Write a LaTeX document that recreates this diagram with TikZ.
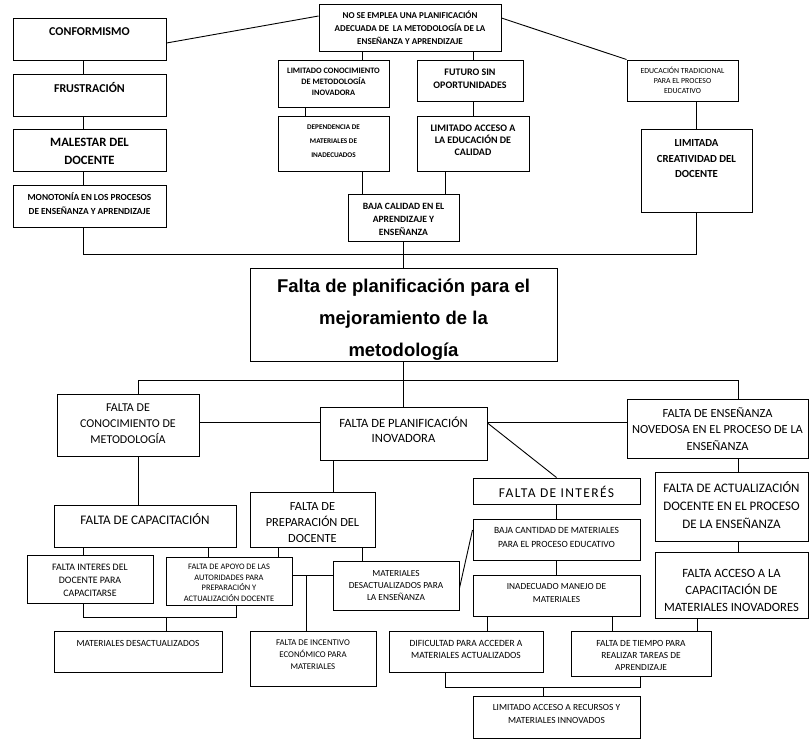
\documentclass[tikz,border=0pt]{standalone}
\usepackage{fontspec}
\setmainfont{Carlito}
\newfontfamily\arialfont{Liberation Sans}
\usepackage{tikz}
\newcommand{\cajatxt}[4]{\parbox[c][#2pt][t]{#1pt}{\centering\vspace*{\dimexpr#3pt-\ht\strutbox\relax}\strut#4}}
\newcommand{\tam}[2]{\fontsize{#1}{#2}\selectfont}

\begin{document}
\begin{tikzpicture}[x=1pt,y=-1pt,
    caja/.style={draw,line width=1pt,inner sep=0pt},
    linea/.style={line width=0.9pt}]
  \useasboundingbox (0,0) rectangle (809,740);
  % efectos
  \node[caja,font=\tam{12}{14}\bfseries] (conf) at (89.5,39) {\cajatxt{153}{42}{17.8}{CONFORMISMO}};
  \node[caja,font=\tam{12}{14}\bfseries] (frus) at (89.5,95) {\cajatxt{153}{42}{17.8}{FRUSTRACIÓN}};
  \node[caja,font=\tam{12.7}{18}\bfseries] (males) at (89.5,150) {\cajatxt{153}{42}{17}{MALESTAR DEL\\DOCENTE}};
  \node[caja,font=\tam{9.3}{14}\bfseries] (mono) at (89.5,206) {\cajatxt{153}{42}{15}{MONOTONÍA EN LOS PROCESOS\\DE ENSEÑANZA Y APRENDIZAJE}};
  \node[caja,font=\tam{9}{13}\bfseries] (nose) at (410,27.5) {\cajatxt{182}{47}{14}{NO SE EMPLEA UNA PLANIFICACIÓN\\ADECUADA DE \ LA METODOLOGÍA DE LA\\ENSEÑANZA Y APRENDIZAJE}};
  \node[caja,font=\tam{8.3}{11}\bfseries] (limcon) at (333.5,83.5) {\cajatxt{111}{47}{13.6}{LIMITADO CONOCIMIENTO\\DE METODOLOGÍA\\INOVADORA}};
  \node[caja,font=\tam{7.2}{14}\bfseries] (depen) at (333.5,143.5) {\cajatxt{111}{55}{13.3}{DEPENDENCIA DE\\MATERIALES DE\\INADECUADOS}};
  \node[caja,font=\tam{9.6}{13}\bfseries] (baja) at (403.5,217.5) {\cajatxt{111}{47}{15}{BAJA CALIDAD EN EL\\APRENDIZAJE Y\\ENSEÑANZA}};
  \node[caja,font=\tam{10}{13}\bfseries] (futuro) at (470,80.5) {\cajatxt{106}{41}{15.2}{FUTURO SIN\\OPORTUNIDADES}};
  \node[caja,font=\tam{10}{12}\bfseries] (limacc) at (473,143.5) {\cajatxt{112}{55}{15.2}{LIMITADO ACCESO A\\LA EDUCACIÓN DE\\CALIDAD}};
  \node[caja,font=\tam{7.8}{10}] (educ) at (682.5,80.5) {\cajatxt{111}{41}{13.5}{EDUCACIÓN TRADICIONAL\\PARA EL PROCESO\\EDUCATIVO}};
  \node[caja,font=\tam{10.8}{15.5}\bfseries] (limcre) at (696.5,170.5) {\cajatxt{111}{83}{17.5}{LIMITADA\\CREATIVIDAD DEL\\DOCENTE}};
  % problema
  \node[caja,font=\arialfont\bfseries\tam{18.5}{32}] (prob) at (403.5,314.5) {\cajatxt{307}{93}{24}{Falta de planificación para el\\mejoramiento de la\\metodología}};
  % causas
  \node[caja,font=\tam{12}{16}] (conoc) at (128,425) {\cajatxt{142}{62}{17.8}{FALTA DE\\CONOCIMIENTO DE\\METODOLOGÍA}};
  \node[caja,font=\tam{12.6}{15}] (plan) at (403.5,433.5) {\cajatxt{167}{53}{20}{FALTA DE PLANIFICACIÓN\\INOVADORA}};
  \node[caja,font=\tam{12.4}{16.5}] (novedosa) at (717.5,428.5) {\cajatxt{181}{59}{18}{FALTA DE ENSEÑANZA\\NOVEDOSA EN EL PROCESO DE LA\\ENSEÑANZA}};
  \node[caja,font=\tam{13}{18}] (actual) at (731.5,506.5) {\cajatxt{153}{69}{20.2}{FALTA DE ACTUALIZACIÓN\\DOCENTE EN EL PROCESO\\DE LA ENSEÑANZA}};
  \node[caja,font=\tam{12.6}{17}] (acceso) at (731.5,585) {\cajatxt{153}{66}{25}{FALTA ACCESO A LA\\CAPACITACIÓN DE\\MATERIALES INOVADORES}};
  \node[caja,font=\tam{13.5}{14}\addfontfeature{LetterSpace=10}] (interes) at (556.5,491) {\cajatxt{167}{26}{18.3}{FALTA DE INTERÉS}};
  \node[caja,font=\tam{9.5}{14}] (bajacant) at (556.5,539.5) {\cajatxt{167}{41}{14}{BAJA CANTIDAD DE MATERIALES\\PARA EL PROCESO EDUCATIVO}};
  \node[caja,font=\tam{9.3}{13}] (inadec) at (556.5,595.5) {\cajatxt{167}{41}{14}{INADECUADO MANEJO DE\\MATERIALES}};
  \node[caja,font=\tam{13.1}{14}] (capac) at (145,526) {\cajatxt{182}{42}{18.2}{FALTA DE CAPACITACIÓN}};
  \node[caja,font=\tam{12.4}{16}] (prep) at (312.5,519.5) {\cajatxt{125}{55}{18}{FALTA DE\\PREPARACIÓN DEL\\DOCENTE}};
  \node[caja,font=\tam{9.9}{13}] (faltint) at (90,579) {\cajatxt{126}{48}{15}{FALTA INTERES DEL\\DOCENTE PARA\\CAPACITARSE}};
  \node[caja,font=\tam{8.4}{10.5}] (apoyo) at (229,581) {\cajatxt{126}{48}{12.6}{FALTA DE APOYO DE LAS\\AUTORIDADES PARA\\PREPARACIÓN Y\\ACTUALIZACIÓN DOCENTE}};
  \node[caja,font=\tam{9.3}{12}] (matpara) at (396,585.5) {\cajatxt{126}{49}{15}{MATERIALES\\DESACTUALIZADOS PARA\\LA ENSEÑANZA}};
  \node[caja,font=\tam{9.4}{12}] (matdes) at (138,651.5) {\cajatxt{168}{41}{15}{MATERIALES DESACTUALIZADOS}};
  \node[caja,font=\tam{8.8}{12}] (incent) at (313,658.5) {\cajatxt{126}{55}{14.8}{FALTA DE INCENTIVO\\ECONÓMICO PARA\\MATERIALES}};
  \node[caja,font=\tam{9.5}{12}] (dific) at (466,651.5) {\cajatxt{154}{41}{15}{DIFICULTAD PARA ACCEDER A\\MATERIALES ACTUALIZADOS}};
  \node[caja,font=\tam{9.4}{12}] (tiempo) at (641,653.5) {\cajatxt{140}{45}{15}{FALTA DE TIEMPO PARA\\REALIZAR TAREAS DE\\APRENDIZAJE}};
  \node[caja,font=\tam{9.4}{13}] (recursos) at (556.5,717) {\cajatxt{167}{42}{14}{LIMITADO ACCESO A RECURSOS Y\\MATERIALES INNOVADOS}};

  \coordinate (barra1) at (0,254);
  \coordinate (barra2) at (0,380);
  \coordinate (barra3) at (0,617);
  \coordinate (barra4) at (0,687);
  \coordinate (cruce) at (306,575);

  \draw[linea] (conf.east |- 0,43) -- (nose.west |- 0,16);
  \draw[linea] (nose.east |- 0,18) -- (educ.north west);
  \draw[linea] (83,0 |- conf.south) -- (83,0 |- frus.north);
  \draw[linea] (83,0 |- frus.south) -- (83,0 |- males.north);
  \draw[linea] (83,0 |- males.south) -- (83,0 |- mono.north);
  \draw[linea] (362,0 |- nose.south) -- (362,0 |- limcon.north);
  \draw[linea] (473,0 |- nose.south) -- (473,0 |- futuro.north);
  \draw[linea] (305,0 |- limcon.south) -- (305,0 |- depen.north);
  \draw[linea] (473,0 |- futuro.south) -- (473,0 |- limacc.north);
  \draw[linea] (362,0 |- depen.south) -- (362,0 |- baja.north);
  \draw[linea] (445,0 |- limacc.south) -- (445,0 |- baja.north);
  \draw[linea] (696,0 |- educ.south) -- (696,0 |- limcre.north);
  \draw[linea] (83,0 |- mono.south) |- (696,0 |- barra1) -- (696,0 |- limcre.south);
  \draw[linea] (baja.south) -- (prob.north);

  \draw[linea] (prob.south) -- (plan.north);
  \draw[linea] (138,0 |- conoc.north) |- (738,0 |- barra2) -- (738,0 |- novedosa.north);
  \draw[linea] (conoc.east |- 0,422) -- (plan.west |- 0,422);
  \draw[linea] (plan.east |- 0,422) -- (novedosa.west |- 0,422);
  \draw[linea] (plan.east |- 0,423) -- (interes.north);
  \draw[linea] (138,0 |- conoc.south) -- (138,0 |- capac.north);
  \draw[linea] (333,0 |- plan.south) -- (333,0 |- prep.north);
  \draw[linea] (83,0 |- capac.south) -- (83,0 |- faltint.north);
  \draw[linea] (208,0 |- capac.south) -- (208,0 |- apoyo.north);
  \draw[linea] (278,0 |- prep.south) -- (278,0 |- apoyo.north);
  \draw[linea] (362,0 |- prep.south) -- (362,0 |- matpara.north);
  \draw[linea] (apoyo.east |- cruce) -- (matpara.west |- cruce);
  \draw[linea] (cruce) -- (cruce |- incent.north);
  \draw[linea] (83,0 |- faltint.south) |- (236,0 |- barra3) -- (236,0 |- apoyo.south);
  \draw[linea] (166,0 |- barra3) -- (166,0 |- matdes.north);
  \draw[linea] (matpara.east |- 0,588) -- (bajacant.west |- 0,530);
  \draw[linea] (interes.south) -- (bajacant.north);
  \draw[linea] (bajacant.south) -- (inadec.north);
  \draw[linea] (738,0 |- novedosa.south) -- (738,0 |- actual.north);
  \draw[linea] (738,0 |- actual.south) -- (738,0 |- acceso.north);
  \draw[linea] (697,0 |- acceso.south) -- (697,0 |- tiempo.north);
  \draw[linea] (487,0 |- inadec.south) -- (487,0 |- dific.north);
  \draw[linea] (612,0 |- inadec.south) -- (612,0 |- tiempo.north);
  \draw[linea] (445,0 |- dific.south) |- (640,0 |- barra4) -- (640,0 |- tiempo.south);
  \draw[linea] (543,0 |- barra4) -- (543,0 |- recursos.north);
\end{tikzpicture}
\end{document}
